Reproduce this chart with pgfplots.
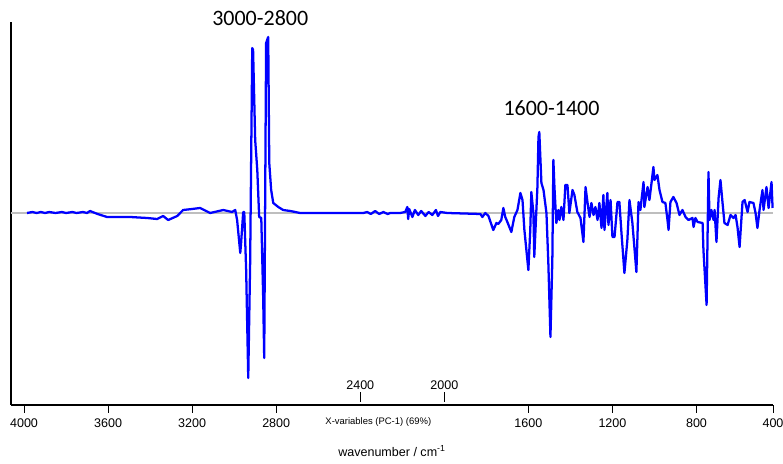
\documentclass[border=0pt]{standalone}
\usepackage{fontspec}
\setmainfont{Liberation Sans}
\newfontfamily\calib{Carlito}
\usepackage{pgfplots}
\pgfplotsset{compat=1.18}
\begin{document}
\begin{tikzpicture}
\begin{axis}[
  name=ax,
  width=571.5pt, height=287.25pt, scale only axis,
  xmin=436, xmax=4062, x dir=reverse,
  ymin=-192, ymax=191,
  axis x line*=bottom, axis y line*=left,
  axis line style={-, black, line width=0.8pt},
  ytick=\empty,
  xtick={4000,3600,3200,2800,1600,1200,800,436},
  xticklabels={4000,3600,3200,2800,1600,1200,800,400},
  tick align=outside, major tick length=6pt,
  tick style={black, line width=0.6pt},
  xticklabel style={font=\fontsize{9.4}{11}\selectfont, yshift=-1pt},
  /pgf/number format/assume math mode=true,
  xlabel={wavenumber / cm\textsuperscript{-1}},
  xlabel style={font=\fontsize{9.4}{11}\selectfont, at={(axis description cs:0.5,0)}, anchor=center, yshift=-34.5pt},
  clip=false,
]
\addplot[draw={rgb,255:red,190;green,190;blue,190}, line width=1.1pt] coordinates {(4062,0) (436,0)};
\addplot[blue, line width=1.7pt, line join=round] coordinates {
(3986,0) (3960,1) (3940,0) (3920,1) (3900,0) (3880,1) (3850,0) (3820,1) (3800,0) (3770,1) (3750,0) (3720,1) (3700,0) (3686,2) (3650,-1) (3605,-4) (3495,-4) (3414,-5) (3367,-6) (3338,-3) (3314,-7) (3271,-3) (3243,3) (3200,4) (3162,5) (3114,0) (3052,3) (3010,1) (2995,3)
(2986,-7) (2971,-40) (2967,-30) (2957,1) (2952,1) (2943,-57) (2933,-165) (2924,-50) (2914,165) (2910,163) (2900,73) (2890,43) (2881,-4) (2871,-5) (2862,-84) (2857,-145) (2848,170) (2838,176) (2833,50) (2824,23) (2814,10) (2790,6) (2767,3) (2733,2) (2686,0)
(2386,0) (2367,1) (2350,-1) (2329,2) (2310,-1) (2290,1) (2270,-1) (2257,0) (2210,0) (2186,1) (2176,6) (2172,-6) (2167,4) (2152,-4) (2140,3) (2124,-2) (2110,2) (2090,-3) (2075,1) (2057,-2) (2040,3) (2030,-3) (2019,1) (1986,0)
(1828,-1) (1819,-4) (1805,0) (1790,-3) (1767,-17) (1752,-10) (1743,-11) (1729,-7) (1719,5) (1710,-4) (1700,-9) (1681,-19) (1667,-4) (1652,3) (1638,20) (1628,13) (1619,-17) (1600,-57) (1591,-17) (1586,21) (1576,0) (1572,-44) (1557,26) (1552,76) (1548,81) (1538,30) (1528,23) (1514,0) (1505,-50) (1495,-124) (1486,-47) (1481,53) (1476,26) (1467,-10) (1457,3) (1452,-7) (1443,6) (1433,-7) (1424,28) (1414,28)
(1405,0) (1390,23) (1381,18) (1367,1) (1352,-5) (1338,-29) (1328,26) (1319,11) (1309,-4) (1300,10) (1290,-2) (1281,6) (1271,-7) (1262,10) (1252,-15) (1243,18) (1238,-17) (1224,20) (1219,-12) (1209,13) (1200,-24) (1190,-24) (1176,11) (1167,11) (1157,-20) (1143,-60) (1129,-27) (1119,13) (1105,-10) (1086,-59) (1076,11) (1067,3) (1052,31) (1048,6) (1033,26) (1024,13) (1014,30) (1005,46) (1000,33) (986,38) (976,23) (962,11) (948,10) (938,-7) (933,-17)
(924,11) (910,16) (895,10) (881,-2) (867,3) (852,-4) (838,-7) (819,-5) (814,-14) (805,-5) (795,-9) (771,-10) (767,-37) (752,-92) (743,41) (738,-7) (729,3) (719,-7) (714,3) (705,-29) (695,15) (686,33) (676,10) (667,-10) (652,-12) (638,-2) (624,-5) (614,-2) (605,-14) (595,-34) (581,11) (571,13) (557,1) (548,11) (529,10) (519,0) (510,-15) (500,3) (486,23) (481,3) (467,26) (457,5) (443,31) (438,5)
};
\draw[black, line width=0.6pt] (axis cs:2400,-189) -- (axis cs:2400,-179) node[above, inner sep=1.5pt, font=\fontsize{9.4}{11}\selectfont] {2400};
\draw[black, line width=0.6pt] (axis cs:2000,-189) -- (axis cs:2000,-179) node[above, inner sep=1.5pt, font=\fontsize{9.4}{11}\selectfont] {2000};
\node[font=\fontsize{7.1}{8}\selectfont, yshift=-12.75pt] at (axis cs:2314,-192) {X-variables (PC-1) (69\%)};
\node[font=\calib\fontsize{16.5}{19}\selectfont] at (axis cs:2876,195) {3000-2800};
\node[font=\calib\fontsize{16.5}{19}\selectfont] at (axis cs:1490,105) {1600-1400};
\end{axis}
\pgfresetboundingbox
\useasboundingbox ([shift={(-8.25pt,-44.25pt)}]ax.south west) rectangle ([shift={(7.5pt,16.5pt)}]ax.north east);
\end{tikzpicture}
\end{document}
